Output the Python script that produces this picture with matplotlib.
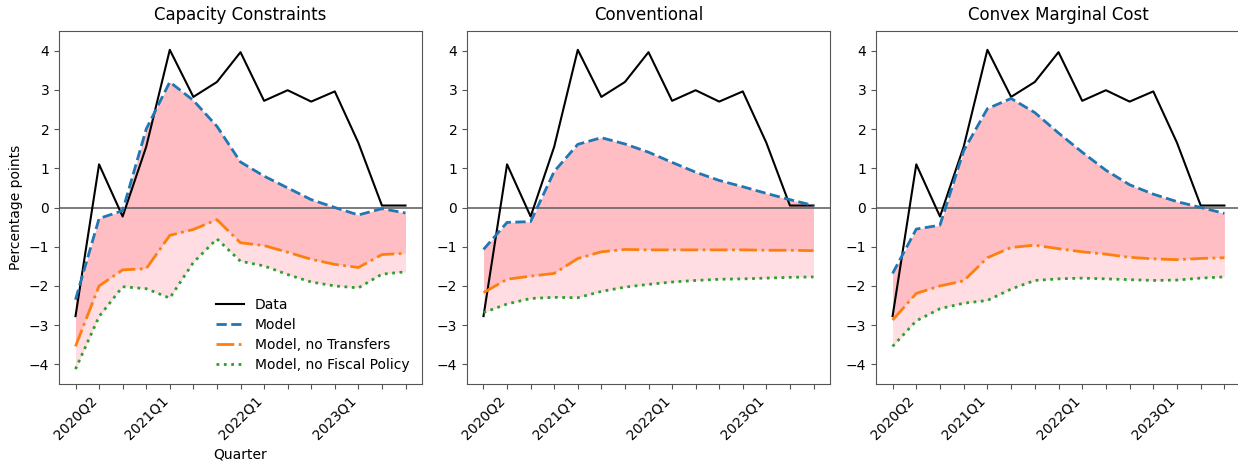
import matplotlib
matplotlib.use("Agg")
import matplotlib.pyplot as plt
import numpy as np

quarters = ["2020Q2", "2020Q3", "2020Q4", "2021Q1", "2021Q2", "2021Q3", "2021Q4",
            "2022Q1", "2022Q2", "2022Q3", "2022Q4", "2023Q1", "2023Q2", "2023Q3", "2023Q4"]
labeled = ["2020Q2", "2021Q1", "2022Q1", "2023Q1"]

data = [-2.77, 1.1, -0.23, 1.55, 4.02, 2.82, 3.2, 3.96, 2.72, 2.99, 2.7, 2.96, 1.65, 0.05, 0.05]

titles = ["Capacity Constraints", "Conventional", "Convex Marginal Cost"]

model = {
    "Capacity Constraints": [-2.35, -0.28, -0.08, 2.0, 3.2, 2.73, 2.07, 1.16, 0.8, 0.5, 0.2, 0.0, -0.19, -0.03, -0.14],
    "Conventional": [-1.07, -0.38, -0.36, 0.92, 1.61, 1.78, 1.62, 1.41, 1.15, 0.9, 0.69, 0.53, 0.36, 0.2, 0.05],
    "Convex Marginal Cost": [-1.68, -0.55, -0.45, 1.45, 2.52, 2.78, 2.42, 1.9, 1.41, 0.95, 0.58, 0.34, 0.15, 0.0, -0.15],
}
no_transfers = {
    "Capacity Constraints": [-3.54, -2.0, -1.59, -1.56, -0.71, -0.56, -0.31, -0.9, -0.97, -1.14, -1.32, -1.45, -1.53, -1.2, -1.17],
    "Conventional": [-2.17, -1.83, -1.75, -1.68, -1.3, -1.13, -1.07, -1.08, -1.08, -1.08, -1.08, -1.08, -1.09, -1.09, -1.1],
    "Convex Marginal Cost": [-2.87, -2.19, -2.0, -1.87, -1.28, -1.02, -0.96, -1.05, -1.13, -1.19, -1.27, -1.31, -1.33, -1.3, -1.28],
}
no_fiscal = {
    "Capacity Constraints": [-4.12, -2.78, -2.02, -2.07, -2.31, -1.4, -0.8, -1.37, -1.49, -1.71, -1.9, -2.0, -2.05, -1.7, -1.64],
    "Conventional": [-2.68, -2.46, -2.32, -2.29, -2.3, -2.14, -2.03, -1.96, -1.9, -1.86, -1.83, -1.82, -1.8, -1.78, -1.77],
    "Convex Marginal Cost": [-3.54, -2.89, -2.58, -2.44, -2.37, -2.08, -1.86, -1.82, -1.8, -1.82, -1.84, -1.86, -1.85, -1.8, -1.77],
}

W, H = 1238, 466
fig = plt.figure(figsize=(W / 100, H / 100), dpi=100)
lefts = [59, 467, 876]
widths = [363, 363, 365]
bottom, top = 384, 31

x = np.arange(len(quarters))
spine_col = "#555555"

for i, t in enumerate(titles):
    ax = fig.add_axes([lefts[i] / W, (H - bottom) / H, widths[i] / W, (bottom - top) / H])
    m = np.array(model[t]); nt = np.array(no_transfers[t]); nf = np.array(no_fiscal[t])
    ax.fill_between(x, m, nt, color="#ffbdc4", lw=0, zorder=1)
    ax.fill_between(x, nt, nf, color="#ffdde2", lw=0, zorder=1)
    ax.axhline(0, color="#666666", lw=1.2, zorder=2)
    ax.plot(x, data, color="black", lw=1.5, label="Data", zorder=3)
    ax.plot(x, m, color="C0", ls="--", lw=2, label="Model", zorder=3)
    ax.plot(x, nt, color="C1", ls="-.", lw=2, label="Model, no Transfers", zorder=3)
    ax.plot(x, nf, color="C2", ls=":", lw=2, label="Model, no Fiscal Policy", zorder=3)
    ax.set_ylim(-4.5, 4.5)
    ax.set_yticks([-4, -3, -2, -1, 0, 1, 2, 3, 4])
    ax.set_xticks(x)
    ax.set_xticklabels([q if q in labeled else "" for q in quarters], rotation=45)
    ax.set_title(t, fontsize=12, pad=8)
    for s in ax.spines.values():
        s.set_color(spine_col)
    ax.tick_params(color=spine_col)
    if i == 0:
        ax.set_ylabel("Percentage points")
        ax.set_xlabel("Quarter")
        ax.legend(loc="lower right", frameon=False, fontsize=10, labelspacing=0.42)

fig.savefig("out.png", dpi=100)
